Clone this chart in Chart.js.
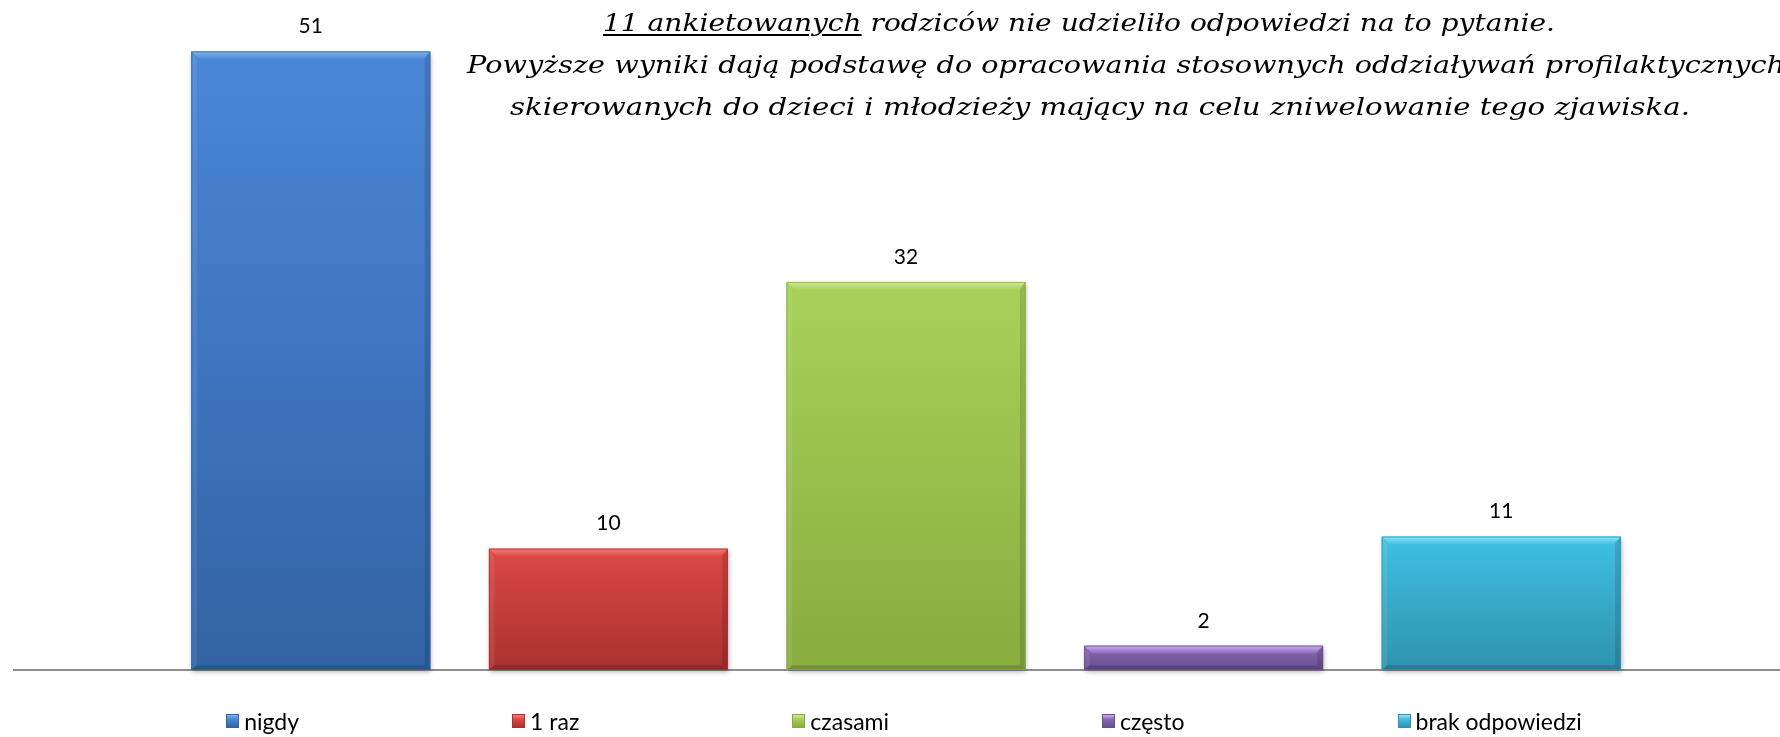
<!DOCTYPE html>
<html>
<head>
<meta charset="utf-8">
<script src="https://cdn.jsdelivr.net/npm/chart.js@4.4.1/dist/chart.umd.min.js"></script>
<style>
html, body { margin: 0; padding: 0; background: #ffffff; }
#wrap { position: relative; width: 1780px; height: 737px; overflow: hidden; background: #fff; }
#chart { position: absolute; left: 0; top: 0; }
.note { position: absolute; white-space: nowrap; font-family: 'DejaVu Serif', serif; font-style: italic;
        font-size: 25px; line-height: 25px; color: #000; transform-origin: 0 0; }
.note u { text-decoration-thickness: 1.5px; text-underline-offset: 3px; }
#legend { position: absolute; left: 0; width: 1808px; top: 707px; display: flex; justify-content: center;
          gap: 213px; font-family: Lato, 'Open Sans', sans-serif; font-size: 23px; color: #000; }
.li { display: flex; align-items: center; white-space: nowrap; }
.sw { width: 13px; height: 14px; margin-right: 5px; box-sizing: border-box; }
</style>
</head>
<body>
<div id="wrap">
  <canvas id="chart" width="1780" height="737"></canvas>
  <div id="notes"></div>
  <div id="legend"></div>
</div>
<script>
// ---- data ----
const categories = ['nigdy', '1 raz', 'czasami', 'często', 'brak odpowiedzi'];
const values = [51, 10, 32, 2, 11];
const yMax = 55;

// ---- styles ----
const barTop = ['#4a87d8', '#dc4845', '#a9d159', '#8668b2', '#3fc0e2'];
const barBottom = ['#3363a4', '#a93130', '#88ac3e', '#6a4e8f', '#2f93ae'];
const barBevel = ['#80b4f3', '#f57b79', '#cbea8c', '#cfaef5', '#8de6fb'];

// ---- annotation text (from the page) ----
const noteLines = [
  { html: '<u>11 ankietowanych</u> rodziców nie udzieliło odpowiedzi na to pytanie.', left: 603, base: 31, width: 952 },
  { html: 'Powyższe wyniki dają podstawę do opracowania stosownych oddziaływań profilaktycznych', left: 467, base: 73, width: 1318 },
  { html: 'skierowanych do dzieci i młodzieży mający na celu zniwelowanie tego zjawiska.', left: 510, base: 115, width: 1180 }
];

const axisLinePlugin = {
  id: 'axisLine',
  beforeDatasetsDraw(chart) {
    const ctx = chart.ctx;
    const y0 = chart.scales.y.getPixelForValue(0);
    ctx.save();
    ctx.strokeStyle = '#8e8e8e';
    ctx.lineWidth = 2;
    ctx.beginPath();
    ctx.moveTo(13, y0);
    ctx.lineTo(chart.width, y0);
    ctx.stroke();
    ctx.restore();
  }
};

const bevelPlugin = {
  id: 'bevel',
  afterDatasetsDraw(chart) {
    const ctx = chart.ctx;
    const meta = chart.getDatasetMeta(0);
    meta.data.forEach((bar, i) => {
      const p = bar.getProps(['x', 'y', 'base', 'width'], true);
      const L = p.x - p.width / 2, R = p.x + p.width / 2, T = p.y, B = p.base;
      const h = B - T;
      ctx.save();
      ctx.shadowColor = 'rgba(0,0,0,0.35)';
      ctx.shadowBlur = 5;
      ctx.shadowOffsetX = 1;
      ctx.shadowOffsetY = 2;
      const g = ctx.createLinearGradient(0, T, 0, B);
      g.addColorStop(0, barTop[i]);
      g.addColorStop(1, barBottom[i]);
      ctx.fillStyle = g;
      ctx.fillRect(L, T, p.width, h);
      ctx.restore();
      const b = Math.min(8, h / 3);
      ctx.save();
      const gt = ctx.createLinearGradient(0, T, 0, T + b);
      gt.addColorStop(0, barBevel[i]);
      gt.addColorStop(1, barTop[i]);
      ctx.fillStyle = gt;
      ctx.beginPath();
      ctx.moveTo(L, T); ctx.lineTo(R, T); ctx.lineTo(R - b, T + b); ctx.lineTo(L + b, T + b); ctx.closePath();
      ctx.fill();
      ctx.fillStyle = 'rgba(255,255,255,0.08)';
      ctx.beginPath();
      ctx.moveTo(L, T); ctx.lineTo(L + b * 0.7, T + b); ctx.lineTo(L + b * 0.7, B - b * 0.6); ctx.lineTo(L, B); ctx.closePath();
      ctx.fill();
      ctx.fillStyle = 'rgba(0,0,0,0.12)';
      ctx.beginPath();
      ctx.moveTo(R, T); ctx.lineTo(R - b * 0.7, T + b); ctx.lineTo(R - b * 0.7, B - b * 0.6); ctx.lineTo(R, B); ctx.closePath();
      ctx.fill();
      ctx.fillStyle = 'rgba(0,0,0,0.16)';
      ctx.beginPath();
      ctx.moveTo(L, B); ctx.lineTo(L + b * 0.7, B - b * 0.6); ctx.lineTo(R - b * 0.7, B - b * 0.6); ctx.lineTo(R, B); ctx.closePath();
      ctx.fill();
      ctx.strokeStyle = barBottom[i];
      ctx.globalAlpha = 0.7;
      ctx.lineWidth = 1;
      ctx.strokeRect(L + 0.5, T + 0.5, p.width - 1, h - 1);
      ctx.restore();
    });
  }
};

const labelPlugin = {
  id: 'valueLabels',
  afterDatasetsDraw(chart) {
    const ctx = chart.ctx;
    const meta = chart.getDatasetMeta(0);
    const ds = chart.data.datasets[0].data;
    ctx.save();
    ctx.font = '21px Lato, "Open Sans", sans-serif';
    ctx.fillStyle = '#000';
    ctx.textAlign = 'center';
    ctx.textBaseline = 'middle';
    meta.data.forEach((bar, i) => {
      const p = bar.getProps(['x', 'y'], true);
      ctx.fillText(String(ds[i]), p.x, p.y - 25);
    });
    ctx.restore();
  }
};

const chart = new Chart(document.getElementById('chart'), {
  type: 'bar',
  data: {
    labels: categories,
    datasets: [{
      data: values,
      backgroundColor: barTop,
      borderWidth: 0,
      categoryPercentage: 1,
      barPercentage: 0.803
    }]
  },
  options: {
    responsive: false,
    animation: false,
    layout: { padding: { left: 162, right: 130, top: 3, bottom: 67 } },
    plugins: { legend: { display: false }, tooltip: { enabled: false } },
    scales: {
      x: { display: false, grid: { display: false } },
      y: { display: false, min: 0, max: yMax, grid: { display: false } }
    }
  },
  plugins: [axisLinePlugin, bevelPlugin, labelPlugin]
});

// legend (HTML)
const legendEl = document.getElementById('legend');
categories.forEach((c, i) => {
  const item = document.createElement('div');
  item.className = 'li';
  const sw = document.createElement('div');
  sw.className = 'sw';
  sw.style.background = `linear-gradient(to bottom, ${barBevel[i]} 0%, ${barTop[i]} 35%, ${barBottom[i]} 100%)`;
  sw.style.border = `1px solid ${barBottom[i]}`;
  const t = document.createElement('span');
  t.textContent = c;
  item.appendChild(sw);
  item.appendChild(t);
  legendEl.appendChild(item);
});

// notes
const notesEl = document.getElementById('notes');
noteLines.forEach(n => {
  const d = document.createElement('div');
  d.className = 'note';
  d.innerHTML = n.html;
  d.style.left = n.left + 'px';
  d.style.top = (n.base - 21) + 'px';
  notesEl.appendChild(d);
  const k = n.width / d.getBoundingClientRect().width;
  d.style.transform = `scaleX(${k})`;
});
</script>
</body>
</html>
